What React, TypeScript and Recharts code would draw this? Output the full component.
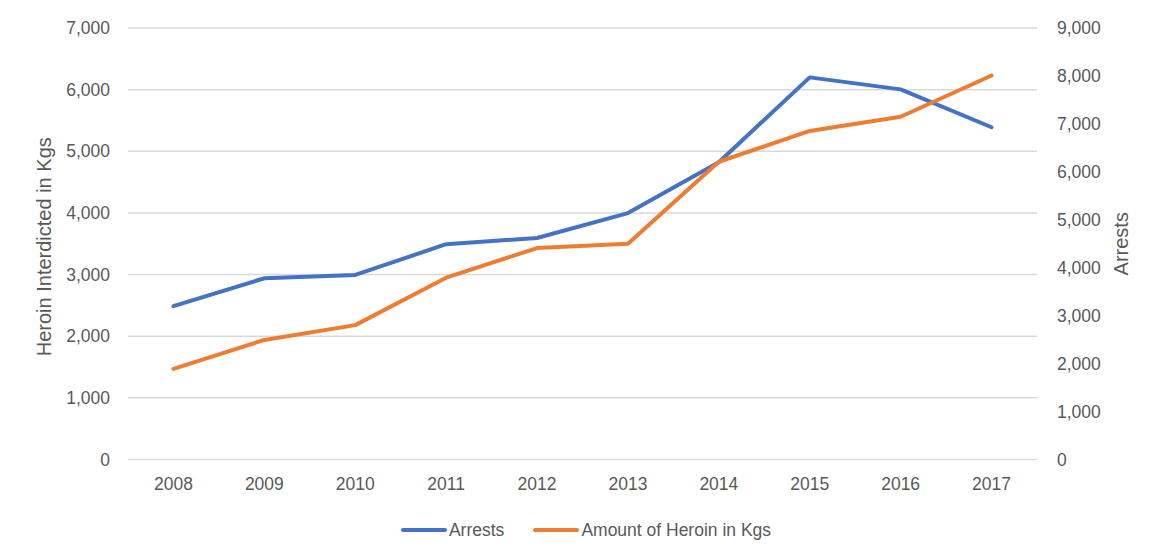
import React from 'react';
import { LineChart, Line, XAxis, YAxis, CartesianGrid, Legend, Label } from 'recharts';

const years = ['2008', '2009', '2010', '2011', '2012', '2013', '2014', '2015', '2016', '2017'];
const arrests = [3200, 3780, 3850, 4490, 4620, 5140, 6200, 7970, 7720, 6930];
const heroinKgs = [1470, 1940, 2180, 2950, 3430, 3500, 4830, 5330, 5560, 6230];
const leftTicks = [0, 1000, 2000, 3000, 4000, 5000, 6000, 7000];
const rightTicks = [0, 1000, 2000, 3000, 4000, 5000, 6000, 7000, 8000, 9000];
const boundaryTicks = [0, 1, 2, 3, 4, 5, 6, 7, 8, 9, 10];
const seriesNames = ['Arrests', 'Amount of Heroin in Kgs'];

const data = years.map((y, i) => ({ year: y, arrests: arrests[i], heroin: heroinKgs[i] }));

const FONT = '"Liberation Sans", Arial, sans-serif';
const TEXT = '#595959';
const GRID = '#d9d9d9';
const BLUE = '#4472C4';
const ORANGE = '#ED7D31';

const fmt = (v: number) => v.toLocaleString('en-US');

const renderLegend = (props: any) => {
  const payload = [...(props.payload || [])].sort(
    (a: any, b: any) => seriesNames.indexOf(a.value) - seriesNames.indexOf(b.value)
  );
  return (
    <div
      style={{
        display: 'flex',
        justifyContent: 'center',
        alignItems: 'center',
        height: 30,
        paddingLeft: 18,
        fontFamily: FONT,
        fontSize: 17.5,
        color: TEXT,
      }}
    >
      {payload.map((p: any, i: number) => (
        <div key={i} style={{ display: 'flex', alignItems: 'center', marginLeft: i === 0 ? 0 : 29 }}>
          <svg width={46} height={8}>
            <line x1={2} y1={4} x2={44} y2={4} stroke={p.color} strokeWidth={4} strokeLinecap="round" />
          </svg>
          <span style={{ marginLeft: 2 }}>{p.value}</span>
        </div>
      ))}
    </div>
  );
};

const leftTitle = (props: any) => {
  const vb = props.viewBox || {};
  const cx = vb.x + 44;
  const cy = vb.y + vb.height / 2 + 3;
  return (
    <text
      x={cx}
      y={cy}
      transform={`rotate(-90 ${cx} ${cy})`}
      textAnchor="middle"
      dominantBaseline="central"
      fill={TEXT}
      fontFamily={FONT}
      fontSize={20}
    >
      Heroin Interdicted in Kgs
    </text>
  );
};

const rightTitle = (props: any) => {
  const vb = props.viewBox || {};
  const cx = vb.x + 84;
  const cy = vb.y + vb.height / 2;
  return (
    <text
      x={cx}
      y={cy}
      transform={`rotate(-90 ${cx} ${cy})`}
      textAnchor="middle"
      dominantBaseline="central"
      fill={TEXT}
      fontFamily={FONT}
      fontSize={20}
    >
      Arrests
    </text>
  );
};

export default function App() {
  return (
    <div style={{ position: 'absolute', left: 0, top: 0, width: 1154, height: 557, background: '#fff' }}>
      <LineChart width={1154} height={557} data={data} margin={{ top: 28, right: 0, bottom: 0, left: 0 }}>
        <CartesianGrid horizontal vertical={false} stroke={GRID} strokeWidth={1.5} yAxisId="left" />
        <XAxis
          xAxisId="edges"
          type="number"
          domain={[0, 10]}
          ticks={boundaryTicks}
          allowDataOverflow
          height={0}
          tickSize={6}
          tickFormatter={() => ''}
          axisLine={{ stroke: GRID, strokeWidth: 1.5 }}
          tickLine={{ stroke: GRID, strokeWidth: 1.5 }}
        />
        <XAxis
          dataKey="year"
          height={67.5}
          padding={{ left: 45.45, right: 45.45 }}
          axisLine={false}
          tickLine={false}
          tickSize={0}
          tickMargin={18.5}
          interval={0}
          tick={{ fill: TEXT, fontSize: 17.5, fontFamily: FONT }}
        />
        <YAxis
          yAxisId="left"
          width={128}
          domain={[0, 7000]}
          ticks={leftTicks}
          tickFormatter={fmt}
          axisLine={false}
          tickLine={false}
          tickSize={0}
          tickMargin={18}
          interval={0}
          tick={{ fill: TEXT, fontSize: 17.5, fontFamily: FONT }}
        >
          <Label content={leftTitle} />
        </YAxis>
        <YAxis
          yAxisId="right"
          orientation="right"
          width={117}
          domain={[0, 9000]}
          ticks={rightTicks}
          tickFormatter={fmt}
          axisLine={false}
          tickLine={false}
          tickSize={0}
          tickMargin={20}
          interval={0}
          tick={{ fill: TEXT, fontSize: 17.5, fontFamily: FONT }}
        >
          <Label content={rightTitle} />
        </YAxis>
        <Legend
          verticalAlign="bottom"
          content={renderLegend}
          wrapperStyle={{ top: 515, bottom: undefined, left: 0, width: 1154, height: 30 }}
        />
        <Line
          yAxisId="right"
          type="linear"
          dataKey="arrests"
          name="Arrests"
          stroke={BLUE}
          strokeWidth={4}
          strokeLinejoin="round"
          strokeLinecap="round"
          dot={false}
          activeDot={false}
          isAnimationActive={false}
        />
        <Line
          yAxisId="left"
          type="linear"
          dataKey="heroin"
          name="Amount of Heroin in Kgs"
          stroke={ORANGE}
          strokeWidth={4}
          strokeLinejoin="round"
          strokeLinecap="round"
          dot={false}
          activeDot={false}
          isAnimationActive={false}
        />
      </LineChart>
    </div>
  );
}
